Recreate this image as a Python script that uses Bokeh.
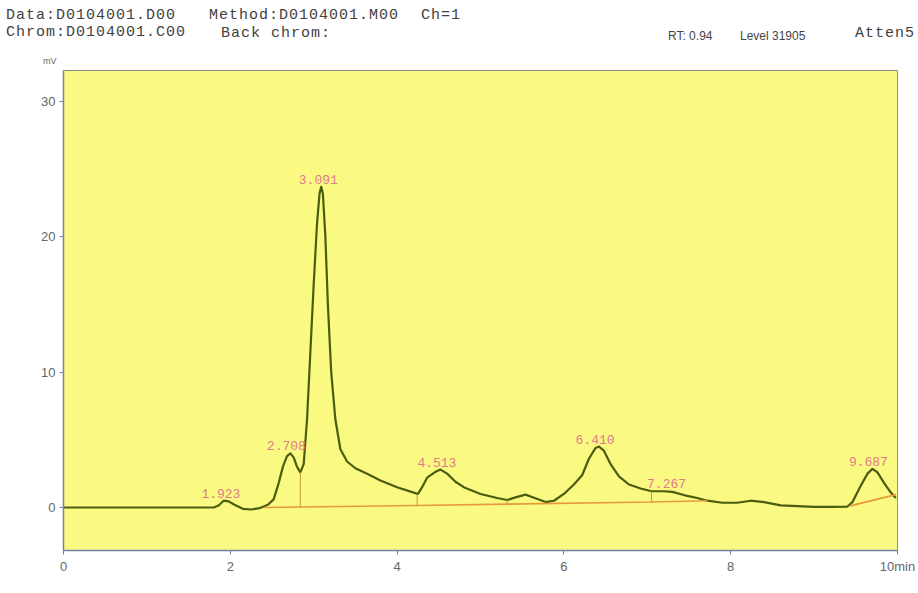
from bokeh.plotting import figure
from bokeh.models import ColumnDataSource, FixedTicker, Range1d, Div
from bokeh.layouts import column
from bokeh.core.properties import value
from bokeh.embed import file_html
from bokeh.resources import INLINE

# ---- data ----
time_min = [0.00, 1.80, 1.86, 1.92, 1.98, 2.05, 2.15, 2.25, 2.35, 2.45, 2.52, 2.58,
            2.63, 2.68, 2.72, 2.76, 2.80, 2.84, 2.88, 2.92, 2.96, 3.00, 3.04, 3.07,
            3.09, 3.11, 3.14, 3.17, 3.21, 3.26, 3.32, 3.40, 3.50, 3.64, 3.80, 4.00, 4.20,
            4.25, 4.30, 4.36, 4.45, 4.52, 4.60, 4.70, 4.80, 5.00, 5.20, 5.32, 5.42,
            5.54, 5.65, 5.78, 5.88, 6.00, 6.12, 6.22, 6.30, 6.38, 6.42, 6.48, 6.56,
            6.66, 6.78, 6.92, 7.05, 7.20, 7.30, 7.45, 7.60, 7.72, 7.90, 8.08, 8.24,
            8.40, 8.60, 8.80, 9.00, 9.20, 9.40, 9.46, 9.55, 9.64, 9.70, 9.76, 9.84,
            9.92, 9.98]
signal_mv = [0.00, 0.00, 0.15, 0.50, 0.45, 0.20, -0.10, -0.15, -0.05, 0.20, 0.60, 1.80,
             3.00, 3.80, 4.00, 3.70, 3.00, 2.60, 3.20, 6.50, 11.5, 16.5, 21.0, 23.2,
             23.7, 23.2, 20.0, 15.0, 10.0, 6.50, 4.30, 3.40, 2.90, 2.50, 2.00, 1.50, 1.10,
             1.00, 1.50, 2.20, 2.60, 2.80, 2.50, 1.90, 1.50, 1.00, 0.70, 0.55, 0.75,
             0.95, 0.70, 0.40, 0.50, 1.00, 1.70, 2.40, 3.60, 4.40, 4.50, 4.20, 3.20,
             2.30, 1.70, 1.40, 1.20, 1.20, 1.15, 0.90, 0.70, 0.50, 0.35, 0.35, 0.50,
             0.40, 0.15, 0.10, 0.05, 0.05, 0.07, 0.40, 1.50, 2.50, 2.85, 2.60, 1.80,
             1.10, 0.70]

baseline1_t = [2.40, 4.24, 5.32, 7.05, 7.72]
baseline1_mv = [0.00, 0.15, 0.25, 0.40, 0.50]
baseline2_t = [9.42, 9.98]
baseline2_mv = [0.10, 0.95]

drop_t = [2.84, 4.24, 5.32, 7.05]
drop_base = [0.03, 0.15, 0.25, 0.40]
drop_top = [2.60, 1.00, 0.55, 1.20]

peak_rt = [1.923, 2.708, 3.091, 4.513, 6.410, 7.267, 9.687]
peak_mv = [0.50, 4.00, 23.7, 2.80, 4.50, 1.20, 2.85]
peak_labels = ["1.923", "2.708", "3.091", "4.513", "6.410", "7.267", "9.687"]

x_ticks = [0, 2, 4, 6, 8, 10]
y_ticks = [0, 10, 20, 30]

header_row1 = ["Data:D0104001.D00", "Method:D0104001.M00", "Ch=1"]
header_row2 = ["Chrom:D0104001.C00", "Back chrom:"]
status_texts = ["RT: 0.94", "Level 31905"]
atten_text = "Atten5"
y_unit = "mV"

# ---- header (HTML) ----
def span(txt, left, top, size, font="'Liberation Mono', monospace", color="#3f3f3f",
         spacing=0.0):
    return (f'<span style="position:absolute;left:{left}px;top:{top}px;font-size:{size}px;'
            f'line-height:1;font-family:{font};color:{color};white-space:pre;'
            f'letter-spacing:{spacing}px;">{txt}</span>')

sans = "'Liberation Sans', Arial, sans-serif"
header_html = (
    '<div style="position:relative;width:918px;height:70px;">'
    + span(header_row1[0], 6, 7.5, 15, spacing=1.0)
    + span(header_row1[1], 209, 7.5, 15, spacing=1.0)
    + span(header_row1[2], 421, 7.5, 15, spacing=1.0)
    + span(header_row2[0], 6, 24.5, 15, spacing=1.0)
    + span(header_row2[1], 221, 25.5, 15, spacing=1.0)
    + span(status_texts[0], 668, 30, 12, font=sans, color="#444444")
    + span(status_texts[1], 740, 30, 12, font=sans, color="#444444")
    + span(atten_text, 855, 26, 15, spacing=1.0)
    + span(y_unit, 43, 57, 9, font=sans, color="#666666")
    + '</div>'
)
header = Div(text=header_html, width=918, height=70, margin=(0, 0, 0, 0))

# ---- figure ----
p = figure(width=918, height=523, x_range=Range1d(0, 10), y_range=Range1d(-3.18, 32.3),
           min_border_left=63, min_border_right=21, min_border_top=0, min_border_bottom=43,
           output_backend="svg", toolbar_location=None, margin=(0, 0, 0, 0))
p.background_fill_color = "#fafa82"
p.border_fill_color = "#ffffff"
p.outline_line_color = "#8c8c8c"
p.xgrid.visible = False
p.ygrid.visible = False

for ax in (p.xaxis[0], p.yaxis[0]):
    ax.axis_line_color = "#7482aa"
    ax.axis_line_width = 1.5
    ax.major_tick_line_color = "#7482aa"
    ax.major_tick_out = 4
    ax.major_tick_in = 0
    ax.minor_tick_line_color = None
    ax.major_label_text_font = "Liberation Sans"
    ax.major_label_text_font_size = "13px"
    ax.major_label_text_color = "#666666"
    ax.major_label_standoff = 4

p.xaxis.ticker = FixedTicker(ticks=x_ticks)
p.yaxis.ticker = FixedTicker(ticks=y_ticks)
p.xaxis.major_label_overrides = {10: "10min"}

# signal
p.line(time_min, signal_mv, line_color="#4a5c10", line_width=2.2, line_join="round")
# baselines
p.line(baseline1_t, baseline1_mv, line_color="#e69a3a", line_width=1.6)
p.line(baseline2_t, baseline2_mv, line_color="#e69a3a", line_width=1.6)
# drop lines
p.segment(x0=drop_t, y0=drop_base, x1=drop_t, y1=drop_top, line_color="#c8963a", line_width=1)

# peak labels
src = ColumnDataSource(dict(x=peak_rt, y=peak_mv, t=peak_labels))
p.text(x="x", y="y", text="t", source=src, text_align="center", text_baseline="bottom",
       x_offset=-3, y_offset=-3, text_font=value("Liberation Mono"), text_font_size="13px",
       text_color="#e07a8c")

layout = column(header, p, spacing=0, margin=(0, 0, 0, 0))
open("out.html", "w").write(file_html(layout, INLINE))
